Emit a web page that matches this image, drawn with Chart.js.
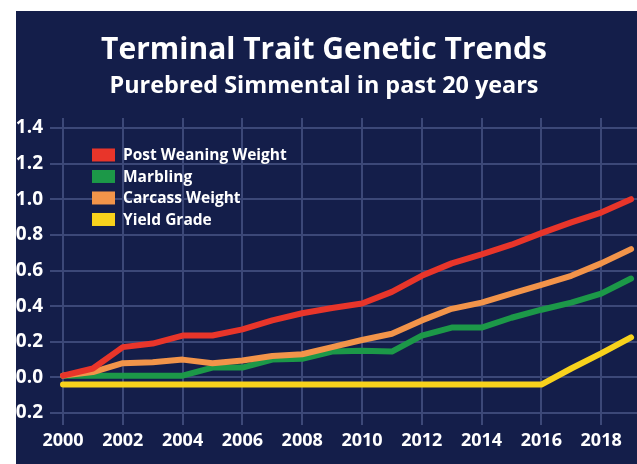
<!DOCTYPE html>
<html>
<head>
<meta charset="utf-8">
<title>Terminal Trait Genetic Trends</title>
<script src="https://cdn.jsdelivr.net/npm/chart.js@4.4.0/dist/chart.umd.min.js"></script>
<style>
html, body { margin: 0; padding: 0; background: #fff; }
#panel { position: absolute; left: 16px; top: 11px; width: 621px; height: 453px; background: #141e4a; overflow: hidden; }
#chartWrap { position: absolute; left: -20px; top: 0; width: 670px; height: 453px; }
</style>
</head>
<body>
<div id="panel"><div id="chartWrap"><canvas id="trendChart"></canvas></div></div>
<script>
// data
const years = [2000, 2001, 2002, 2003, 2004, 2005, 2006, 2007, 2008, 2009,
               2010, 2011, 2012, 2013, 2014, 2015, 2016, 2017, 2018, 2019];
const postWeaningWeight = [0.01, 0.05, 0.17, 0.19, 0.235, 0.235, 0.27, 0.32, 0.36, 0.39,
                           0.415, 0.48, 0.57, 0.64, 0.69, 0.745, 0.81, 0.87, 0.925, 1.0];
const marbling = [0.01, 0.01, 0.01, 0.01, 0.01, 0.055, 0.055, 0.10, 0.105, 0.145,
                  0.15, 0.145, 0.235, 0.28, 0.28, 0.335, 0.38, 0.42, 0.47, 0.555];
const carcassWeight = [0.01, 0.03, 0.08, 0.085, 0.10, 0.08, 0.095, 0.12, 0.13, 0.17,
                       0.21, 0.245, 0.32, 0.385, 0.42, 0.47, 0.52, 0.57, 0.64, 0.72];
const yieldGrade = [-0.04, -0.04, -0.04, -0.04, -0.04, -0.04, -0.04, -0.04, -0.04, -0.04,
                    -0.04, -0.04, -0.04, -0.04, -0.04, -0.04, -0.04, 0.05, 0.135, 0.225];

const seriesNames = ['Post Weaning Weight', 'Marbling', 'Carcass Weight', 'Yield Grade'];
const xTicks = [2000, 2002, 2004, 2006, 2008, 2010, 2012, 2014, 2016, 2018];
const yTicks = [-0.2, 0.0, 0.2, 0.4, 0.6, 0.8, 1.0, 1.2, 1.4];

const chartTitle = 'Terminal Trait Genetic Trends';
const chartSubtitle = 'Purebred Simmental in past 20 years';

const FONT = '"Open Sans", "DejaVu Sans", sans-serif';

function pts(vals) { return years.map((y, i) => ({ x: y, y: vals[i] })); }

function lineSet(label, vals, color, order) {
    return {
        label: label, data: pts(vals), borderColor: color, backgroundColor: color,
        borderWidth: 6, pointRadius: 0, tension: 0, order: order,
        borderCapStyle: 'round', borderJoinStyle: 'round'
    };
}

// legend drawn inside the plot, top left
const insideLegend = {
    id: 'insideLegend',
    afterDatasetsDraw(chart) {
        const c = chart.ctx, a = chart.chartArea;
        c.save();
        c.font = 'bold 15.5px ' + FONT;
        c.textBaseline = 'middle';
        chart.data.datasets.forEach((ds, i) => {
            const y = a.top + 37 + i * 21.5;
            c.fillStyle = ds.borderColor;
            c.fillRect(a.left + 42, y - 6.5, 23, 13);
            c.fillStyle = '#ffffff';
            c.fillText(ds.label, a.left + 73, y + 1);
        });
        c.restore();
    }
};

new Chart(document.getElementById('trendChart'), {
    type: 'line',
    data: {
        datasets: [
            lineSet(seriesNames[0], postWeaningWeight, '#e8352a', 0),
            lineSet(seriesNames[1], marbling, '#1c9848', 2),
            lineSet(seriesNames[2], carcassWeight, '#f2944a', 1),
            lineSet(seriesNames[3], yieldGrade, '#f8d21c', 3)
        ]
    },
    options: {
        responsive: true, maintainAspectRatio: false, animation: false,
        layout: { padding: { left: 6, right: 20, top: 0, bottom: 0 } },
        plugins: {
            legend: { display: false },
            tooltip: { enabled: false },
            title: {
                display: true, text: chartTitle, color: '#ffffff',
                font: { family: FONT, size: 30, weight: 'bold', lineHeight: 1.2 },
                padding: { top: 21, bottom: 4 }
            },
            subtitle: {
                display: true, text: chartSubtitle, color: '#ffffff',
                font: { family: FONT, size: 23.4, weight: 'bold', lineHeight: 1.2 },
                padding: { top: 0, bottom: 17.9 }
            }
        },
        scales: {
            x: {
                type: 'linear', min: 1999.565, max: 2019.5,
                afterBuildTicks: s => { s.ticks = xTicks.map(v => ({ value: v })); },
                afterFit: s => { s.height = 39; },
                grid: { color: '#3c4878', lineWidth: 2, drawTicks: false },
                border: { display: false },
                ticks: {
                    color: '#ffffff', padding: 5, maxRotation: 0, autoSkip: false,
                    font: { family: FONT, size: 18, weight: 'bold' },
                    callback: v => String(v)
                }
            },
            y: {
                min: -0.267, max: 1.456,
                afterBuildTicks: s => { s.ticks = yTicks.map(v => ({ value: v })); },
                afterFit: s => { s.width = 48; },
                grid: { color: '#3c4878', lineWidth: 2, drawTicks: false },
                border: { display: false },
                ticks: {
                    color: '#ffffff', padding: 7, autoSkip: false,
                    font: { family: FONT, size: 19, weight: 'bold' },
                    callback: v => v.toFixed(1)
                }
            }
        }
    },
    plugins: [insideLegend]
});
</script>
</body>
</html>
